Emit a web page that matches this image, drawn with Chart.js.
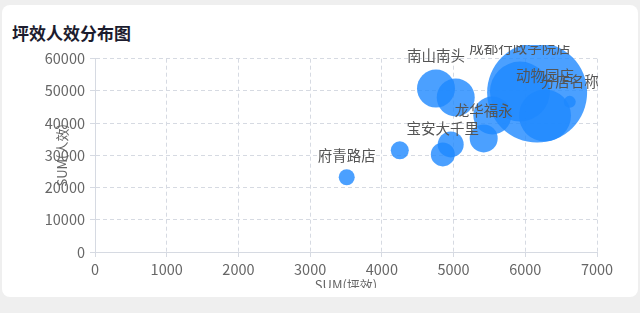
<!DOCTYPE html>
<html>
<head>
<meta charset="utf-8">
<script src="https://cdn.jsdelivr.net/npm/chart.js@4"></script>
<style>
  html, body { margin: 0; padding: 0; background: #efefef; width: 640px; height: 313px; overflow: hidden; }
  #card { position: absolute; left: 2px; top: 5px; width: 636px; height: 292px; background: #fff; border-radius: 8px; }
  #title { position: absolute; left: 10px; top: 15px; font: bold 17px "Noto Sans CJK SC", sans-serif; color: #1c1c2e; }
  #wrap { position: absolute; left: 0px; top: 40px; width: 633px; height: 243px; overflow: hidden; }
  #wrap canvas { position: absolute; left: 0; top: 0; }
</style>
</head>
<body>
<div id="card">
  <div id="title">坪效人效分布图</div>
  <div id="wrap"><canvas id="c" width="633" height="260"></canvas></div>
</div>
<script>
const stores = ['府青路店', '', '宝安大千里', '', '龙华福永', '', '南山南头', '', '', '成都行政学院店', '动物园店', '分店名称'];
const pingXiao = [3510, 4250, 4850, 4960, 5420, 5540, 4755, 5030, 6165, 5926, 6275, 6620];
const renXiao = [23200, 31550, 30300, 33400, 35260, 42370, 50720, 47940, 49480, 49790, 42370, 46600];
const bubbleSize = [8, 9, 12, 13, 14, 19, 19, 19, 50, 30, 26, 6];
const xTicks = [0, 1000, 2000, 3000, 4000, 5000, 6000, 7000];
const yTicks = [0, 10000, 20000, 30000, 40000, 50000, 60000];

const FONT = '"Noto Sans CJK SC", sans-serif';
const points = pingXiao.map((x, i) => ({ x: x, y: renXiao[i], r: bubbleSize[i] }));

const labelPlugin = {
  id: 'bubbleLabels',
  afterDatasetsDraw(chart) {
    const ctx = chart.ctx;
    const meta = chart.getDatasetMeta(0);
    ctx.save();
    ctx.font = '14.5px ' + FONT;
    ctx.fillStyle = '#555';
    ctx.textAlign = 'center';
    ctx.textBaseline = 'middle';
    meta.data.forEach((el, i) => {
      if (!stores[i]) return;
      const r = bubbleSize[i];
      ctx.fillText(stores[i], el.x, el.y - r - 14);
    });
    ctx.restore();
  }
};

const gridColor = '#d6dae2';
new Chart(document.getElementById('c'), {
  type: 'bubble',
  data: {
    datasets: [{
      label: 'SUM(人效)',
      data: points,
      backgroundColor: 'rgba(30,136,255,0.8)',
      borderWidth: 0,
      hoverBorderWidth: 0,
      clip: false
    }]
  },
  options: {
    responsive: false,
    animation: false,
    events: [],
    layout: { autoPadding: false, padding: { top: 13, right: 38, left: 0, bottom: 0 } },
    plugins: { legend: { display: false }, tooltip: { enabled: false } },
    scales: {
      x: {
        type: 'linear',
        min: 0, max: 7000,
        afterBuildTicks: (s) => { s.ticks = xTicks.map(v => ({ value: v })); },
        afterFit: (s) => { s.height = 53; },
        grid: { color: gridColor, tickLength: 5, drawTicks: true },
        border: { display: true, color: gridColor, dash: [4, 3] },
        ticks: { color: '#666', font: { family: FONT, size: 14.5 }, padding: 4, maxRotation: 0, callback: (v) => String(v) },
        title: { display: true, text: 'SUM(坪效)', color: '#666', font: { family: FONT, size: 13 }, padding: { top: 0, bottom: 12 } }
      },
      y: {
        type: 'linear',
        min: 0, max: 60000,
        afterBuildTicks: (s) => { s.ticks = yTicks.map(v => ({ value: v })); },
        afterFit: (s) => { s.width = 93; },
        grid: { color: gridColor, tickLength: 5, drawTicks: true },
        border: { display: true, color: gridColor, dash: [4, 3] },
        ticks: { color: '#666', font: { family: FONT, size: 14.5 }, padding: 5, callback: (v) => String(v) },
        title: { display: true, text: 'SUM(人效)', color: '#666', font: { family: FONT, size: 13 }, padding: { top: 52, bottom: 0 } }
      }
    }
  },
  plugins: [labelPlugin]
});
</script>
</body>
</html>
